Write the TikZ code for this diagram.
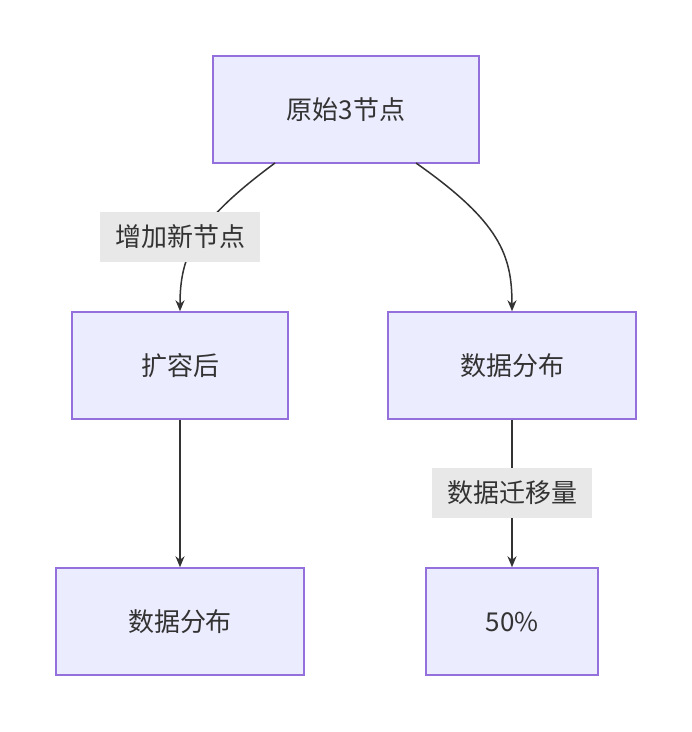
\documentclass[tikz,border=0pt]{standalone}
\usepackage{fontspec}
\setmainfont{Noto Sans CJK SC}
\usetikzlibrary{arrows.meta}
\definecolor{nfill}{HTML}{ECECFF}
\definecolor{nborder}{HTML}{9370DB}
\definecolor{edge}{HTML}{333333}
\definecolor{lbl}{HTML}{E8E8E8}
\begin{document}
\begin{tikzpicture}[x=1pt,y=-1pt,
  box/.style={draw=nborder,fill=nfill,line width=1.5pt,minimum height=107pt,inner sep=0pt,font=\fontsize{26}{30}\selectfont,text=edge},
  conn/.style={draw=edge,line width=1.5pt,-{Stealth[length=11pt,width=9pt]}},
  elabel/.style={fill=lbl,inner sep=0pt,minimum height=50pt,minimum width=160pt,font=\fontsize{26}{30}\selectfont,text=edge}]
\useasboundingbox (0,0) rectangle (692,732);
\node[box,minimum width=266pt] (orig) at (346,109.5) {原始3节点};
\node[box,minimum width=216pt] (exp) at (180,365.5) {扩容后};
\node[box,minimum width=248pt] (distr) at (512,365.5) {数据分布};
\node[box,minimum width=248pt] (distl) at (180,621.5) {数据分布};
\node[box,minimum width=172pt] (pct) at (512,621.5) {50\%};
\coordinate (o1) at (275,163);
\coordinate (o2) at (416,163);
\draw[conn] (o1) .. controls (195,222) and (180,255) .. (exp.north);
\node[elabel] (l1) at (180,237) {增加新节点};
\draw[conn] (o2) .. controls (500,222) and (512,255) .. (distr.north);
\draw[conn] (exp) -- (distl);
\draw[conn] (distr) -- (pct);
\node[elabel] (l2) at (512,493) {数据迁移量};
\end{tikzpicture}
\end{document}
